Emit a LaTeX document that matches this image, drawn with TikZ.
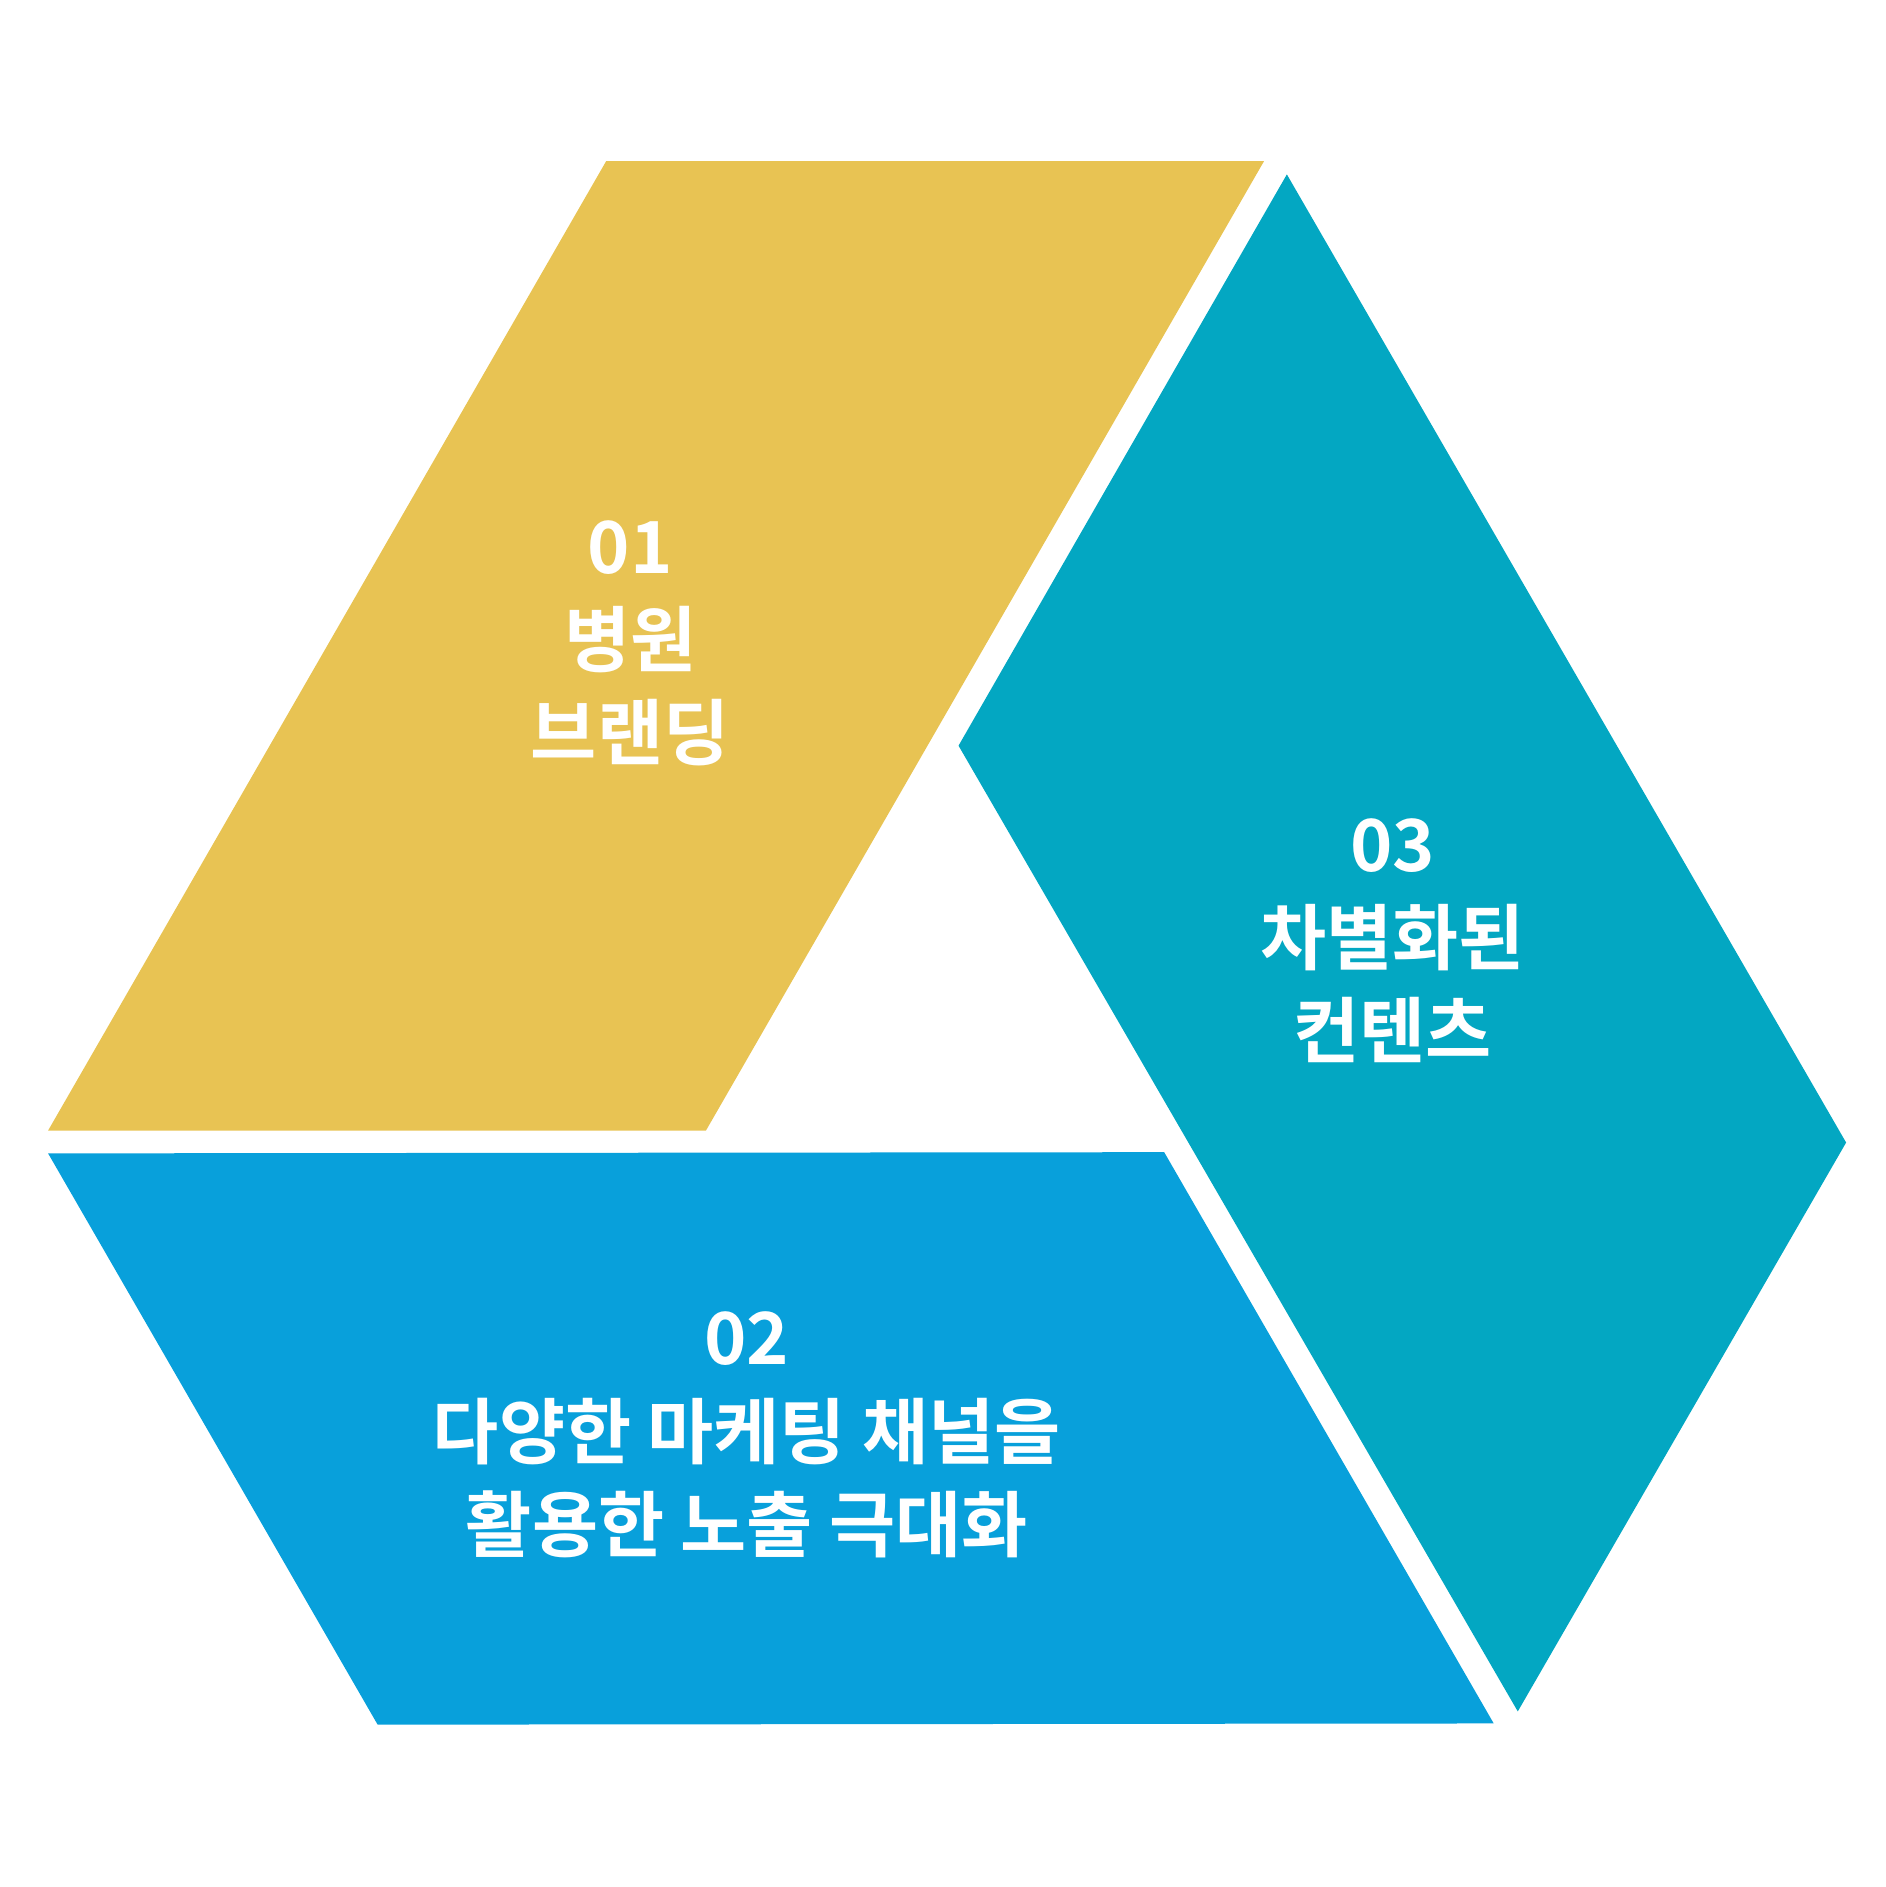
\documentclass[tikz,border=0pt]{standalone}
\usepackage{fontspec}
\newfontfamily\krfont{Noto Sans CJK KR Bold}
\definecolor{brandyellow}{HTML}{E8C353}
\definecolor{contentteal}{HTML}{03A7C2}
\definecolor{channelblue}{HTML}{08A0DB}
\tikzset{
    label text/.style={text=white, align=center, font=\krfont\fontsize{17}{22}\selectfont}
}
\begin{document}
\begin{tikzpicture}[x=0.01cm, y=-0.01cm]
    \useasboundingbox (0,0) rectangle (1568,1569);
    % three panels
    \fill[brandyellow] (504,134) -- (1051,134) -- (587,940) -- (40,940) -- cycle;
    \fill[contentteal] (1070,145) -- (1535,950) -- (1262,1423) -- (797,620) -- cycle;
    \fill[channelblue] (40,959) -- (968,958) -- (1242,1433) -- (314,1434) -- cycle;
    % labels
    \node[label text] (brand) at (524,535) {01\\병원\\브랜딩};
    \node[label text] (content) at (1158,782) {03\\차별화된\\컨텐츠};
    \node[label text] (channel) at (621,1193) {02\\다양한 마케팅 채널을\\활용한 노출 극대화};
\end{tikzpicture}
\end{document}
